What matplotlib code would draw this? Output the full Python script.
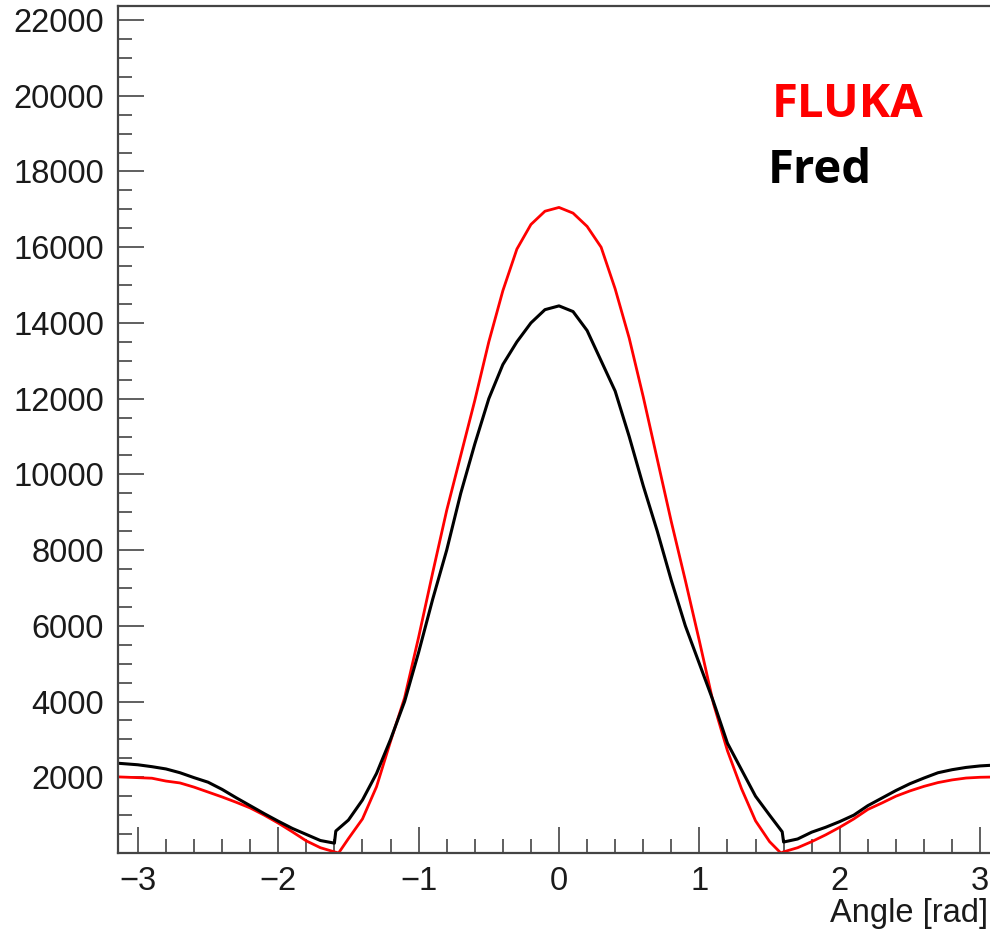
import matplotlib
matplotlib.use("Agg")
import matplotlib.pyplot as plt
from matplotlib.ticker import MultipleLocator

# ---- data (angle in rad, counts) ----
fluka_x = [-3.14, -3.0, -2.9, -2.8, -2.7, -2.6, -2.5, -2.4, -2.3, -2.2, -2.1, -2.0,
           -1.9, -1.8, -1.7, -1.6, -1.57, -1.5, -1.4, -1.3, -1.2, -1.1, -1.0, -0.9,
           -0.8, -0.7, -0.6, -0.5, -0.4, -0.3, -0.2, -0.1, 0.0, 0.1, 0.2, 0.3, 0.4,
           0.5, 0.6, 0.7, 0.8, 0.9, 1.0, 1.1, 1.2, 1.3, 1.4, 1.5, 1.58, 1.6, 1.7,
           1.8, 1.9, 2.0, 2.1, 2.2, 2.3, 2.4, 2.5, 2.6, 2.7, 2.8, 2.9, 3.0, 3.14]
fluka_y = [2010, 1990, 1975, 1900, 1850, 1740, 1610, 1480, 1340, 1190, 1000, 790,
           560, 320, 140, 30, 0, 380, 900, 1750, 2950, 4100, 5700, 7400,
           9050, 10500, 11950, 13500, 14850, 15950, 16600, 16950, 17050, 16900, 16550, 16000, 14900,
           13600, 12050, 10400, 8750, 7200, 5600, 3950, 2700, 1700, 850, 300, 0, 30, 140,
           300, 480, 680, 900, 1150, 1320, 1500, 1640, 1760, 1860, 1930, 1980, 2000, 2010]

fred_x = [-3.14, -3.0, -2.9, -2.8, -2.7, -2.6, -2.5, -2.4, -2.3, -2.2, -2.1, -2.0,
          -1.9, -1.8, -1.7, -1.6, -1.59, -1.5, -1.4, -1.3, -1.2, -1.1, -1.0, -0.9,
          -0.8, -0.7, -0.6, -0.5, -0.4, -0.3, -0.2, -0.1, 0.0, 0.1, 0.2, 0.3, 0.4,
          0.5, 0.6, 0.7, 0.8, 0.9, 1.0, 1.1, 1.2, 1.3, 1.4, 1.5, 1.59, 1.6, 1.7,
          1.8, 1.9, 2.0, 2.1, 2.2, 2.3, 2.4, 2.5, 2.6, 2.7, 2.8, 2.9, 3.0, 3.14]
fred_y = [2370, 2330, 2280, 2220, 2120, 1990, 1870, 1680, 1460, 1250, 1040, 840,
          650, 490, 330, 260, 580, 870, 1400, 2100, 3000, 4000, 5300, 6700,
          8000, 9500, 10800, 12000, 12900, 13500, 14000, 14350, 14450, 14300, 13800, 13000, 12200,
          11000, 9700, 8500, 7200, 6000, 5000, 4000, 2900, 2200, 1500, 1000, 560, 290, 370,
          550, 680, 830, 1000, 1250, 1450, 1650, 1830, 1980, 2120, 2200, 2260, 2300, 2330]

x_ticks = [-3, -2, -1, 0, 1, 2, 3]
y_ticks = [2000, 4000, 6000, 8000, 10000, 12000, 14000, 16000, 18000, 20000, 22000]

W, H = 990, 930
fig = plt.figure(figsize=(W / 100, H / 100), dpi=100)
ax = fig.add_axes([118 / W, (H - 853) / H, (1000 - 118) / W, (853 - 6) / H])

ax.plot(fluka_x, fluka_y, color="#ff0000", lw=2.0)
ax.plot(fred_x, fred_y, color="black", lw=2.2)

ax.set_xlim(-3.1416, 3.1416)
ax.set_ylim(0, 22370)
ax.set_xticks(x_ticks)
ax.set_xticklabels([("\u2212%d" % -t) if t < 0 else "%d" % t for t in x_ticks])
ax.set_yticks(y_ticks)
ax.set_yticklabels([str(t) for t in y_ticks])
ax.xaxis.set_minor_locator(MultipleLocator(0.2))
ax.yaxis.set_minor_locator(MultipleLocator(500))

spine_col = "#444444"
for s in ["left", "bottom", "top", "right"]:
    ax.spines[s].set_color(spine_col)
    ax.spines[s].set_linewidth(1.6)

ax.tick_params(which="major", direction="in", length=19, width=1.2, color=spine_col,
               top=False, right=False, pad=9)
ax.tick_params(which="minor", direction="in", length=10, width=1.2, color=spine_col,
               top=False, right=False)
for lab in ax.get_xticklabels() + ax.get_yticklabels():
    lab.set_fontfamily("Liberation Sans")
    lab.set_fontsize(23.5)
    lab.set_color("#1a1a1a")
ax.tick_params(axis="x", pad=9)
ax.tick_params(axis="y", pad=10)

fig.text(988 / W, 1 - 913 / H, "Angle [rad]", ha="right", va="center",
         color="#1a1a1a", family="Liberation Sans", size=23.5)

fig.text(772 / W, 1 - 117 / H, "FLUKA", color="#ff0000", fontweight="bold",
         family="Open Sans", fontsize=34, ha="left", va="baseline")
fig.text(768 / W, 1 - 183 / H, "Fred", color="black", fontweight="bold",
         family="Open Sans", fontsize=34, ha="left", va="baseline")

fig.savefig("out.png", dpi=100)
